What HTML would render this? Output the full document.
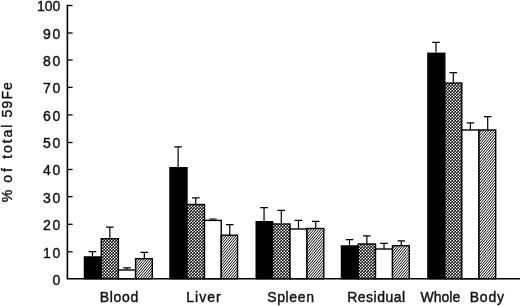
<!DOCTYPE html>
<html><head><meta charset="utf-8"><title>59Fe distribution</title>
<style>
html,body{margin:0;padding:0;background:#fff;}
body{width:520px;height:306px;overflow:hidden;}
svg{display:block;}
text{font-family:"Liberation Sans",sans-serif;font-size:14px;fill:#111;stroke:#111;stroke-width:0.4px;}
</style></head><body>
<svg width="520" height="306" viewBox="0 0 520 306">
<defs>
<pattern id="xh" width="3" height="3" patternUnits="userSpaceOnUse">
<rect width="3" height="3" fill="#000"/>
<circle cx="0.75" cy="0.75" r="0.81" fill="#fff"/>
<circle cx="2.25" cy="2.25" r="0.81" fill="#fff"/>
</pattern>
<pattern id="dh" width="5" height="3" patternUnits="userSpaceOnUse">
<rect width="5" height="3" fill="#fff"/><path d="M0.000,-3.000 L-7.500,6.000 M2.500,-3.000 L-5.000,6.000 M5.000,-3.000 L-2.500,6.000 M7.500,-3.000 L0.000,6.000 M10.000,-3.000 L2.500,6.000 M12.500,-3.000 L5.000,6.000" stroke="#000" stroke-width="0.98"/>
</pattern>
</defs>
<rect width="520" height="306" fill="#fff"/>

<path d="M92.50,256.25 V251.65 M88.70,251.65 H96.30" stroke="#000" stroke-width="1.2" fill="none"/>
<rect x="84.45" y="256.95" width="16.80" height="21.75" fill="#000" stroke="#000" stroke-width="1.4"/>
<path d="M109.83,238.55 V227.15 M106.03,227.15 H113.62" stroke="#000" stroke-width="1.2" fill="none"/>
<rect x="101.25" y="238.75" width="17.15" height="39.95" fill="url(#xh)" stroke="#000" stroke-width="1.4"/>
<path d="M127.00,269.80 V267.90 M123.20,267.90 H130.80" stroke="#000" stroke-width="1.2" fill="none"/>
<rect x="118.40" y="270.00" width="17.20" height="8.70" fill="#fff" stroke="#000" stroke-width="1.4"/>
<path d="M144.30,258.55 V252.40 M140.50,252.40 H148.10" stroke="#000" stroke-width="1.2" fill="none"/>
<rect x="135.60" y="258.75" width="16.70" height="19.95" fill="url(#dh)" stroke="#000" stroke-width="1.4"/>
<path d="M178.12,167.00 V146.90 M174.32,146.90 H181.93" stroke="#000" stroke-width="1.2" fill="none"/>
<rect x="169.95" y="167.70" width="17.05" height="111.00" fill="#000" stroke="#000" stroke-width="1.4"/>
<path d="M195.75,204.30 V197.90 M191.95,197.90 H199.55" stroke="#000" stroke-width="1.2" fill="none"/>
<rect x="187.00" y="204.50" width="17.50" height="74.20" fill="url(#xh)" stroke="#000" stroke-width="1.4"/>
<path d="M212.88,220.20 V219.00 M209.07,219.00 H216.68" stroke="#000" stroke-width="1.2" fill="none"/>
<rect x="204.50" y="220.40" width="16.75" height="58.30" fill="#fff" stroke="#000" stroke-width="1.4"/>
<path d="M229.75,235.05 V224.65 M225.95,224.65 H233.55" stroke="#000" stroke-width="1.2" fill="none"/>
<rect x="221.25" y="235.25" width="16.30" height="43.45" fill="url(#dh)" stroke="#000" stroke-width="1.4"/>
<path d="M264.05,221.00 V207.65 M260.25,207.65 H267.85" stroke="#000" stroke-width="1.2" fill="none"/>
<rect x="256.20" y="221.70" width="16.40" height="57.00" fill="#000" stroke="#000" stroke-width="1.4"/>
<path d="M281.30,223.80 V210.40 M277.50,210.40 H285.10" stroke="#000" stroke-width="1.2" fill="none"/>
<rect x="272.60" y="224.00" width="17.40" height="54.70" fill="url(#xh)" stroke="#000" stroke-width="1.4"/>
<path d="M298.50,228.80 V220.40 M294.70,220.40 H302.30" stroke="#000" stroke-width="1.2" fill="none"/>
<rect x="290.00" y="229.00" width="17.00" height="49.70" fill="#fff" stroke="#000" stroke-width="1.4"/>
<path d="M315.75,228.30 V221.40 M311.95,221.40 H319.55" stroke="#000" stroke-width="1.2" fill="none"/>
<rect x="307.00" y="228.50" width="16.80" height="50.20" fill="url(#dh)" stroke="#000" stroke-width="1.4"/>
<path d="M349.50,245.25 V239.65 M345.70,239.65 H353.30" stroke="#000" stroke-width="1.2" fill="none"/>
<rect x="341.45" y="245.95" width="16.80" height="32.75" fill="#000" stroke="#000" stroke-width="1.4"/>
<path d="M366.88,243.80 V235.90 M363.07,235.90 H370.68" stroke="#000" stroke-width="1.2" fill="none"/>
<rect x="358.25" y="244.00" width="17.25" height="34.70" fill="url(#xh)" stroke="#000" stroke-width="1.4"/>
<path d="M384.00,248.80 V243.40 M380.20,243.40 H387.80" stroke="#000" stroke-width="1.2" fill="none"/>
<rect x="375.50" y="249.00" width="17.00" height="29.70" fill="#fff" stroke="#000" stroke-width="1.4"/>
<path d="M401.25,245.55 V240.90 M397.45,240.90 H405.05" stroke="#000" stroke-width="1.2" fill="none"/>
<rect x="392.50" y="245.75" width="16.80" height="32.95" fill="url(#dh)" stroke="#000" stroke-width="1.4"/>
<path d="M436.00,52.60 V42.40 M432.20,42.40 H439.80" stroke="#000" stroke-width="1.2" fill="none"/>
<rect x="427.90" y="53.30" width="16.90" height="225.40" fill="#000" stroke="#000" stroke-width="1.4"/>
<path d="M453.30,82.90 V72.60 M449.50,72.60 H457.10" stroke="#000" stroke-width="1.2" fill="none"/>
<rect x="444.80" y="83.10" width="17.00" height="195.60" fill="url(#xh)" stroke="#000" stroke-width="1.4"/>
<path d="M470.40,129.80 V122.80 M466.60,122.80 H474.20" stroke="#000" stroke-width="1.2" fill="none"/>
<rect x="461.80" y="130.00" width="17.20" height="148.70" fill="#fff" stroke="#000" stroke-width="1.4"/>
<path d="M487.70,129.80 V116.60 M483.90,116.60 H491.50" stroke="#000" stroke-width="1.2" fill="none"/>
<rect x="479.00" y="130.00" width="16.70" height="148.70" fill="url(#dh)" stroke="#000" stroke-width="1.4"/>
<path d="M67.4,4.8 V278.7 H520" stroke="#000" stroke-width="1.6" fill="none" stroke-linejoin="miter"/>
<text x="60.3" y="284.60" text-anchor="end">0</text>
<path d="M67.4,251.80 H72.6" stroke="#000" stroke-width="1.3"/>
<text x="61.9" y="257.70" text-anchor="end" letter-spacing="1.6">10</text>
<path d="M67.4,224.30 H72.6" stroke="#000" stroke-width="1.3"/>
<text x="61.9" y="230.20" text-anchor="end" letter-spacing="1.6">20</text>
<path d="M67.4,196.60 H72.6" stroke="#000" stroke-width="1.3"/>
<text x="61.9" y="202.50" text-anchor="end" letter-spacing="1.6">30</text>
<path d="M67.4,169.50 H72.6" stroke="#000" stroke-width="1.3"/>
<text x="61.9" y="175.40" text-anchor="end" letter-spacing="1.6">40</text>
<path d="M67.4,142.50 H72.6" stroke="#000" stroke-width="1.3"/>
<text x="61.9" y="148.40" text-anchor="end" letter-spacing="1.6">50</text>
<path d="M67.4,114.90 H72.6" stroke="#000" stroke-width="1.3"/>
<text x="61.9" y="120.80" text-anchor="end" letter-spacing="1.6">60</text>
<path d="M67.4,87.40 H72.6" stroke="#000" stroke-width="1.3"/>
<text x="61.9" y="93.30" text-anchor="end" letter-spacing="1.6">70</text>
<path d="M67.4,60.00 H72.6" stroke="#000" stroke-width="1.3"/>
<text x="61.9" y="65.90" text-anchor="end" letter-spacing="1.6">80</text>
<path d="M67.4,33.00 H72.6" stroke="#000" stroke-width="1.3"/>
<text x="61.9" y="38.90" text-anchor="end" letter-spacing="1.6">90</text>
<path d="M67.4,5.50 H72.6" stroke="#000" stroke-width="1.3"/>
<text x="60.3" y="11.40" text-anchor="end">100</text>
<text x="99.7" y="302" textLength="38.50" lengthAdjust="spacing">Blood</text>
<text x="186.2" y="302" textLength="34.50" lengthAdjust="spacing">Liver</text>
<text x="267.2" y="302" textLength="46.75" lengthAdjust="spacing">Spleen</text>
<text x="347.2" y="302" textLength="58.00" lengthAdjust="spacing">Residual</text>
<text x="420.45" y="302" textLength="39.75" lengthAdjust="spacing">Whole</text>
<text x="469.7" y="302" textLength="34.25" lengthAdjust="spacing">Body</text>
<text transform="translate(11.5,202.3) rotate(-90)" textLength="9.00" lengthAdjust="spacing" font-size="10">%</text>
<text transform="translate(11.5,182.8) rotate(-90)" textLength="14.70" lengthAdjust="spacing">of</text>
<text transform="translate(11.5,158.8) rotate(-90)" textLength="34.30" lengthAdjust="spacing">total</text>
<text transform="translate(11.5,117.4) rotate(-90)" textLength="35.30" lengthAdjust="spacing">59Fe</text>
</svg></body></html>
